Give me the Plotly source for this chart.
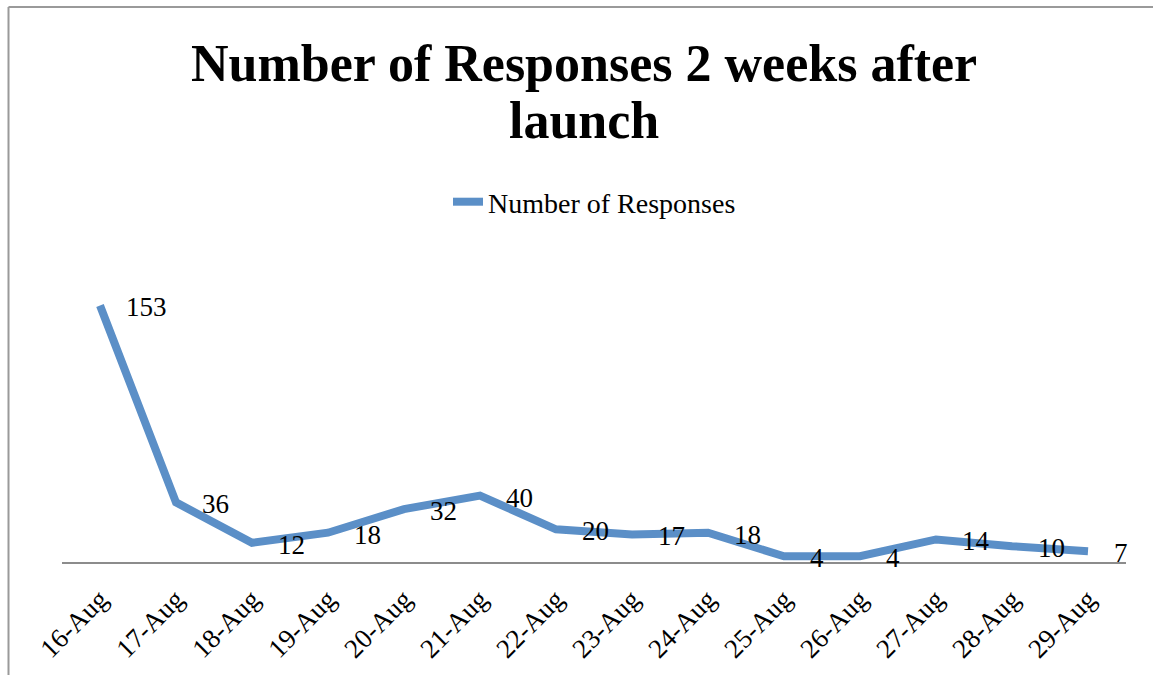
import plotly.graph_objects as go

dates = ["16-Aug", "17-Aug", "18-Aug", "19-Aug", "20-Aug", "21-Aug", "22-Aug",
         "23-Aug", "24-Aug", "25-Aug", "26-Aug", "27-Aug", "28-Aug", "29-Aug"]
responses = [153, 36, 12, 18, 32, 40, 20, 17, 18, 4, 4, 14, 10, 7]
title_lines = ["Number of Responses 2 weeks after", "launch"]

W, H = 1153, 675
L, R, T, B = 62, 27, 260, 112
pw = W - L - R
ph = H - T - B

SERIF = "Liberation Serif"
LINE_COLOR = "#5B8FC7"


def px_x(p):
    return (p - L) / pw


def px_y(p):
    return (H - B - p) / ph


fig = go.Figure()
fig.add_trace(go.Scatter(
    x=dates, y=responses, mode="lines",
    name="Number of Responses",
    line=dict(color=LINE_COLOR, width=8),
    hoverinfo="skip",
))

annotations = []
for d, v in zip(dates, responses):
    annotations.append(dict(
        x=d, y=v, xref="x", yref="y", text=str(v), showarrow=False,
        xanchor="left", yanchor="middle", xshift=24, yshift=-2,
        font=dict(family=SERIF, size=27, color="#000000"),
    ))

# title, two lines
for line, ymid in zip(title_lines, [64, 120]):
    annotations.append(dict(
        x=px_x(584), y=px_y(ymid), xref="paper", yref="paper",
        text="<b>" + line + "</b>", showarrow=False,
        xanchor="center", yanchor="middle",
        font=dict(family=SERIF, size=52, color="#000000"),
    ))

shapes = [
    dict(type="line", xref="paper", yref="paper",
         x0=px_x(8.5), x1=px_x(8.5), y0=px_y(7), y1=px_y(H + 5),
         line=dict(color="#9a9a9a", width=2)),
    dict(type="line", xref="paper", yref="paper",
         x0=px_x(8.5), x1=px_x(W + 5), y0=px_y(7), y1=px_y(7),
         line=dict(color="#9a9a9a", width=2)),
]

fig.update_layout(
    width=W, height=H,
    margin=dict(l=L, r=R, t=T, b=B, autoexpand=False),
    paper_bgcolor="white", plot_bgcolor="white",
    showlegend=True,
    legend=dict(
        orientation="h", x=px_x(448), xanchor="left", y=px_y(202), yanchor="middle",
        font=dict(family=SERIF, size=28, color="#000000"),
        bgcolor="rgba(0,0,0,0)",
    ),
    xaxis=dict(
        type="category", range=[-0.5, len(dates) - 0.5],
        showgrid=False, zeroline=False, showline=False,
        tickangle=-45, ticks="", automargin=False,
        ticklabelstandoff=14,
        tickfont=dict(family=SERIF, size=27, color="#000000"),
    ),
    yaxis=dict(
        range=[0, 180], showgrid=False, zeroline=True,
        zerolinecolor="#8c8c8c", zerolinewidth=2,
        showline=False, showticklabels=False, ticks="", automargin=False,
    ),
    annotations=annotations,
    shapes=shapes,
)

fig.write_html("out.html")
